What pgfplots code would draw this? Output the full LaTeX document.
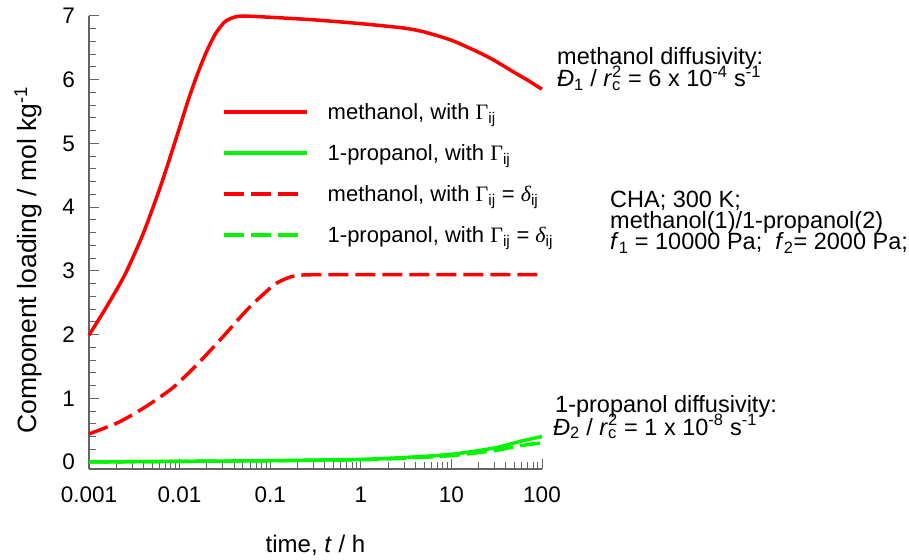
\documentclass[border=0pt]{standalone}
\usepackage{pgfplots}
\pgfplotsset{compat=1.18}
\usepackage{fontspec}
\setmainfont{Liberation Sans}
\newfontfamily\greekfont{Liberation Serif}

\definecolor{curvered}{RGB}{255,0,0}
\definecolor{curvegreen}{RGB}{0,245,0}
\definecolor{axisgray}{RGB}{100,100,100}

\newcommand\Gij{{\greekfont Γ}\textsubscript{ij}}
\newcommand\dij{{\greekfont\itshape δ}\textsubscript{ij}}

% shorter legend sample for the dashed series (three whole dashes)
\pgfplotsset{short legend line/.style={
  legend image code/.code={\draw[##1] (0pt,0pt) -- (74pt,0pt);}}}

% methanol loading, thermodynamic coupling included
\pgfplotstableread{
t        q
0.001    1.99
0.001585 2.45
0.002512 2.95
0.003981 3.59
0.00631  4.37
0.01     5.25
0.01259  5.70
0.01585  6.10
0.01995  6.45
0.02512  6.73
0.03162  6.91
0.03981  6.98
0.05012  7.00
0.1      6.98
0.3      6.94
1        6.88
3        6.81
5        6.75
10       6.62
20       6.43
30       6.30
50       6.11
70       5.99
100      5.85
}\methGamma

% 1-propanol loading, thermodynamic coupling included
\pgfplotstableread{
t       q
0.001   0.00
0.01    0.01
0.1     0.02
0.3     0.03
1       0.04
3       0.07
10      0.12
30      0.22
60      0.33
100     0.40
}\propGamma

% methanol loading, Gamma_ij = delta_ij
\pgfplotstableread{
t       q
0.001   0.44
0.0021  0.62
0.00415 0.86
0.0085  1.17
0.0161  1.55
0.0303  1.97
0.0573  2.41
0.1038  2.75
0.13    2.84
0.1726  2.91
0.23    2.935
0.34    2.94
1       2.94
100     2.94
}\methDelta

% 1-propanol loading, Gamma_ij = delta_ij
\pgfplotstableread{
t       q
0.001   0.00
0.1     0.02
1       0.035
3       0.06
10      0.10
30      0.18
60      0.26
100     0.30
}\propDelta

\newcommand\notefont{\fontsize{23.5}{27}\selectfont}

\begin{document}
\begin{tikzpicture}[font=\fontsize{23}{27}\selectfont]
\path[use as bounding box] (-89pt,-90pt) rectangle (820pt,469pt);
\begin{axis}[
  at={(0pt,0pt)}, anchor=south west,
  scale only axis, width=453pt, height=453pt,
  xmode=log, xmin=0.001, xmax=100, ymin=-0.11, ymax=7,
  axis lines*=left,
  clip=false,
  axis line style={axisgray, line width=1.3pt},
  every tick/.style={axisgray, line width=1pt},
  major tick length=10pt, minor tick length=7pt,
  xtick={0.001,0.01,0.1,1,10,100},
  xticklabels={0.001,0.01,0.1,1,10,100},
  minor xtick={0.002,0.003,0.004,0.005,0.006,0.007,0.008,0.009,
               0.02,0.03,0.04,0.05,0.06,0.07,0.08,0.09,
               0.2,0.3,0.4,0.5,0.6,0.7,0.8,0.9,
               2,3,4,5,6,7,8,9,
               20,30,40,50,60,70,80,90},
  ytick={0,1,2,3,4,5,6,7},
  minor y tick num=4,
  /pgf/number format/assume math mode=true,
  ticklabel style={font=\fontsize{22.5}{27}\selectfont},
  xticklabel style={inner sep=0pt, anchor=north, yshift=-18pt},
  yticklabel style={inner sep=0pt, anchor=east, xshift=-14pt},
  xlabel={time, \textit{t} / h},
  xlabel style={font=\fontsize{24}{28}\selectfont,
    at={(axis description cs:0.5,-0.1854)}, anchor=base},
  ylabel={Component loading / mol kg\textsuperscript{-1}},
  ylabel style={font=\fontsize{26.5}{30}\selectfont,
    at={(axis description cs:-0.1347,0.461)}, anchor=center},
  legend cell align=left,
  legend style={at={(axis description cs:0.2936,0.8333)}, anchor=north west,
    draw=none, fill=none, inner sep=0pt, column sep=19pt,
    font=\fontsize{22}{26}\selectfont,
    nodes={inner sep=0pt, minimum height=41pt}},
  legend image code/.code={\draw[#1] (0pt,0pt) -- (83pt,0pt);},
  every axis plot/.append style={line width=3.5pt, smooth, tension=0.4},
]
\addplot[curvered] table[x=t, y=q] {\methGamma};
\addlegendentry{methanol, with \Gij}
\addplot[curvegreen] table[x=t, y=q] {\propGamma};
\addlegendentry{1-propanol, with \Gij}
\addplot[curvered, dash pattern=on 20pt off 7pt, short legend line]
  table[x=t, y=q] {\methDelta};
\addlegendentry{methanol, with \Gij{} = \dij}
\addplot[curvegreen, dash pattern=on 20pt off 7pt, short legend line]
  table[x=t, y=q] {\propDelta};
\addlegendentry{1-propanol, with \Gij{} = \dij}
\end{axis}

% diffusivity and condition notes beside the axis
\begin{scope}[every node/.style={anchor=base west, inner sep=0pt, font=\notefont}]
\node at (468pt,404pt) {methanol diffusivity:};
\node at (468pt,382pt)
  {\textit{Đ}\textsubscript{1} / \textit{r}\rlap{\textsubscript{c}}\textsuperscript{2} = 6 x 10\textsuperscript{-4} s\textsuperscript{-1}};

\node at (521pt,261pt) {CHA; 300 K;};
\node at (521pt,240pt) {methanol(1)/1-propanol(2)};
\node at (521pt,219pt)
  {\textit{f}\textsubscript{1} = 10000 Pa;\ \ \textit{f}\textsubscript{2}= 2000 Pa;};

\node at (466pt,56pt) {1-propanol diffusivity:};
\node at (464pt,34pt)
  {\textit{Đ}\textsubscript{2} / \textit{r}\rlap{\textsubscript{c}}\textsuperscript{2} = 1 x 10\textsuperscript{-8} s\textsuperscript{-1}};
\end{scope}
\end{tikzpicture}
\end{document}
